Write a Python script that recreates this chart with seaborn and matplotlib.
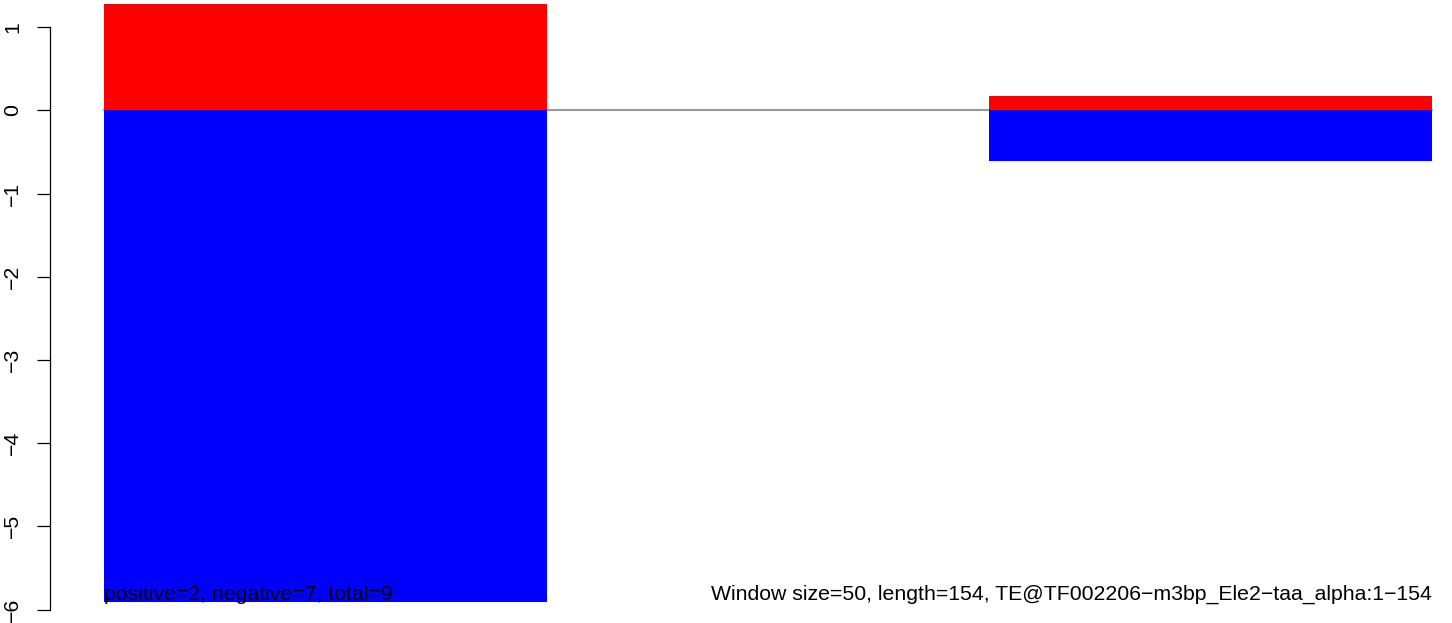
import matplotlib
matplotlib.use("Agg")
import matplotlib.pyplot as plt
import seaborn as sns

# one bar per 50 bp window
windows = ["1-50", "51-100", "101-150"]
pos_vals = [1.278, 0.0, 0.172]
neg_vals = [-5.906, 0.0, -0.605]
y_ticks = [-6, -5, -4, -3, -2, -1, 0, 1]
left_note = "positive=2, negative=7, total=9"
right_note = "Window size=50, length=154, TE@TF002206\u2212m3bp_Ele2\u2212taa_alpha:1\u2212154"

W, H = 1452, 623

sns.set_style("white")
plt.rcParams['font.family'] = ['Liberation Sans', 'DejaVu Sans']
plt.rcParams['text.color'] = 'black'

fig = plt.figure(figsize=(W / 100, H / 100), dpi=100)
ax = fig.add_axes([50 / W, 0, 1 - 50 / W, 1])

ax.axhline(0, color="#999999", lw=1.5, zorder=0)
sns.barplot(x=windows, y=pos_vals, color="red", width=1, saturation=1, linewidth=0, ax=ax, zorder=2)
sns.barplot(x=windows, y=neg_vals, color="blue", width=1, saturation=1, linewidth=0, ax=ax, zorder=2)

# pixel mapping: bars from x=104 to 1432, y=0 at px 110.3, 83.2 px per unit
px_x = (1432 - 104) / 3
ax.set_xlim(-0.5 - (104 - 50) / px_x, 2.5 + (W - 1432) / px_x)
ax.set_ylim(-(H - 110.3) / 83.2, 110.3 / 83.2)

# the grey zero line only runs over the bars
x0, x1 = ax.get_xlim()
ax.lines[0].set_xdata([(-0.5 - x0) / (x1 - x0), (2.5 - x0) / (x1 - x0)])

ax.set_xticks([])
ax.set_yticks(y_ticks)
ax.set_yticklabels([str(v).replace("-", "\u2212") for v in y_ticks], rotation=90, va="center")
ax.tick_params(axis="y", left=True, length=9.4, width=0.9, pad=10.5, labelsize=15.3,
               colors="black", labelcolor="black")
for s in ["top", "right", "bottom"]:
    ax.spines[s].set_visible(False)
ax.spines["left"].set_bounds(-6, 1)
ax.spines["left"].set_linewidth(0.9)
ax.spines["left"].set_color("black")

ybase = -(600 - 110.3) / 83.2
ax.text(-0.5, ybase, left_note, ha="left", va="baseline", fontsize=15.3, color="black", zorder=3)
ax.text(2.5, ybase, right_note, ha="right", va="baseline", fontsize=15.3, color="black", zorder=3)

fig.savefig("out.png", dpi=100)
